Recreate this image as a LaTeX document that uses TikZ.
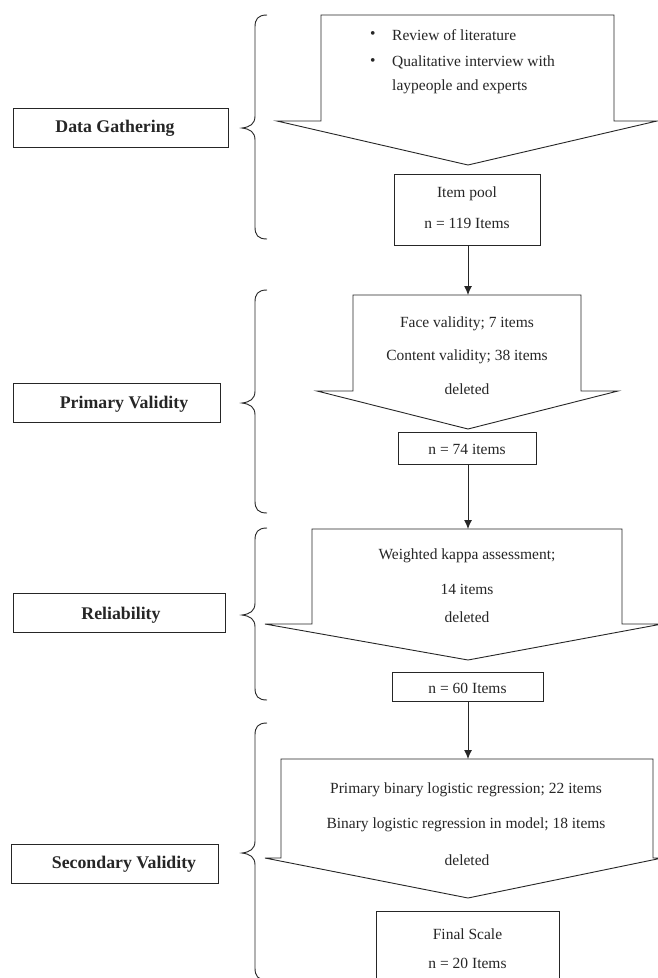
\documentclass[tikz,border=0pt]{standalone}
\usepackage{fontspec}
\setmainfont{Liberation Serif}
\usetikzlibrary{arrows.meta}
\tikzset{
  ln/.style={line width=0.9pt, draw=black!85},
  lblbox/.style={ln, minimum width=#1, minimum height=39pt, inner sep=0pt},
  lbltxt/.style={font=\fontsize{17.8}{17.8}\selectfont\bfseries, inner sep=0pt, text=black!85},
  txt/.style={font=\fontsize{15.5}{15.5}\selectfont, inner sep=0pt, text=black!85},
  cbox/.style={ln, inner sep=0pt},
  arr/.style={ln, -{Latex[length=9pt,width=8pt]}},
}
\begin{document}
\begin{tikzpicture}[x=1pt,y=-1pt]
\clip (0,0) rectangle (658,978);
\fill[white] (0,0) rectangle (658,978);

% ---------- braces ----------
\def\brace#1#2#3{%
  \draw[ln] (267,#1) .. controls (258,#1) and (255,#1+4) .. (255,#1+12)
    -- (255,#2-12) .. controls (255,#2-4) and (250,#2-1) .. (242,#2)
    .. controls (250,#2+1) and (255,#2+4) .. (255,#2+12)
    -- (255,#3-12) .. controls (255,#3-4) and (258,#3) .. (267,#3);}
\brace{15}{128}{239}
\brace{290}{403}{513}
\brace{528}{615}{700}
\brace{723}{853}{980}

% ---------- left labels ----------
\node[lblbox=215pt] (dg) at (120.5,128) {};
\node[lbltxt] (dgt) at (115,128) {Data Gathering};
\node[lblbox=207pt] (pv) at (116.5,402.5) {};
\node[lbltxt] (pvt) at (124,404) {Primary Validity};
\node[lblbox=212pt] (rl) at (119,613) {};
\node[lbltxt] (rlt) at (121,615) {Reliability};
\node[lblbox=207pt] (sv) at (114.5,863.5) {};
\node[lbltxt] (svt) at (124,864) {Secondary Validity};

% ---------- pentagon 1 ----------
\draw[ln] (321,15) -- (614,15) -- (614,121) -- (657,121) -- (468,165) -- (277,121) -- (321,121) -- cycle;
\coordinate (p1tip) at (468,165);
\node[txt, anchor=west] (b1) at (370,35) {\textbullet};
\node[txt, anchor=west] (t1) at (392,35) {Review of literature};
\node[txt, anchor=west] (b2) at (370,62) {\textbullet};
\node[txt, anchor=west] (t2) at (392,62) {Qualitative interview with};
\node[txt, anchor=west] (t3) at (392,87) {laypeople and experts};

\node[cbox, minimum width=146pt, minimum height=71pt] (pool) at (467,209.5) {};
\node[txt] (pool1) at (467,194) {Item pool};
\node[txt] (pool2) at (467,223) {n = 119 Items};

% ---------- pentagon 2 ----------
\coordinate (p2top) at (468,295);
\draw[ln] (353,295) -- (581,295) -- (581,391) -- (618,391) -- (468,429) -- (317,391) -- (353,391) -- cycle;
\node[txt] (f1) at (467,324) {Face validity; 7 items};
\node[txt] (f2) at (467,357) {Content validity; 38 items};
\node[txt] (f3) at (467,389) {deleted};
\node[cbox, minimum width=138pt, minimum height=32pt] (n74) at (467,448) {};
\node[txt] (n74t) at (467,449) {n = 74 items};

% ---------- pentagon 3 ----------
\coordinate (p3top) at (468,529);
\draw[ln] (312,529) -- (622,529) -- (622,624) -- (662,624) -- (468,660) -- (265,624) -- (312,624) -- cycle;
\node[txt] (w1) at (467,556) {Weighted kappa assessment;};
\node[txt] (w2) at (467,589) {14 items};
\node[txt] (w3) at (467,617) {deleted};
\node[cbox, minimum width=151pt, minimum height=29pt] (n60) at (467.5,686.5) {};
\node[txt] (n60t) at (467.5,688) {n = 60 Items};

% ---------- pentagon 4 ----------
\coordinate (p4top) at (468,759);
\draw[ln] (281,759) -- (653,759) -- (653,858) -- (662,858) -- (468,898) -- (265,858) -- (281,858) -- cycle;
\node[txt] (r1) at (466,790) {Primary binary logistic regression; 22 items};
\node[txt] (r2) at (466,825) {Binary logistic regression in model; 18 items};
\node[txt] (r3) at (467,860) {deleted};
\node[cbox, minimum width=183pt, minimum height=80pt] (fin) at (467.5,951) {};
\node[txt] (fin1) at (467.5,934) {Final Scale};
\node[txt] (fin2) at (467.5,963) {n = 20 Items};

% ---------- arrows ----------
\draw[arr] (pool.south -| p2top) -- (p2top);
\draw[arr] (n74.south -| p3top) -- (p3top);
\draw[arr] (n60.south -| p4top) -- (p4top);
\end{tikzpicture}
\end{document}
